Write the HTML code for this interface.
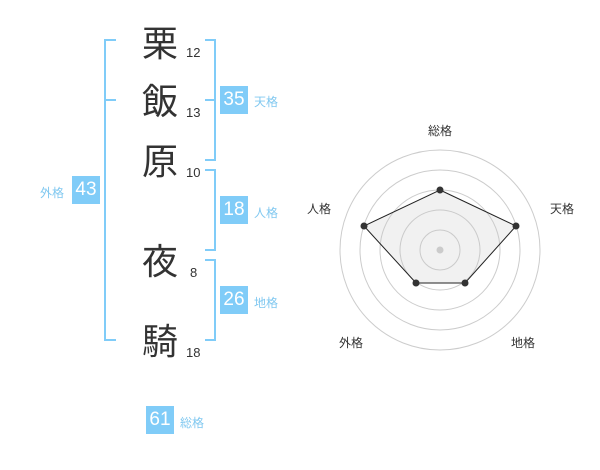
<!DOCTYPE html><html><head><meta charset="utf-8"><style>
body{margin:0;width:600px;height:470px;background:#fff;overflow:hidden;position:relative;font-family:"Liberation Sans","Noto Sans CJK JP",sans-serif}
.k{position:absolute;font-size:36px;color:#333;line-height:1;width:40px;text-align:center}
.n{position:absolute;font-size:13px;color:#333;line-height:1}
.b{position:absolute;background:#80ccf8;color:#fff;font-size:19px;width:28px;height:28px;line-height:28px;text-align:center}
.l{position:absolute;color:#80c8f0;font-size:12px;line-height:1}
.ln{position:absolute;background:#80ccf8}
</style></head><body>
<div class="k" style="left:140px;top:26px">栗</div><div class="n" style="left:186px;top:46px">12</div>
<div class="k" style="left:140px;top:84px">飯</div><div class="n" style="left:186px;top:106px">13</div>
<div class="k" style="left:140px;top:144px">原</div><div class="n" style="left:186px;top:166px">10</div>
<div class="k" style="left:140px;top:244px">夜</div><div class="n" style="left:190px;top:266px">8</div>
<div class="k" style="left:140px;top:324px">騎</div><div class="n" style="left:186px;top:346px">18</div>
<div class="ln" style="left:104px;top:39px;width:2px;height:302px"></div>
<div class="ln" style="left:104px;top:39px;width:12px;height:2px"></div>
<div class="ln" style="left:104px;top:99px;width:12px;height:2px"></div>
<div class="ln" style="left:104px;top:339px;width:12px;height:2px"></div>
<div class="ln" style="left:214px;top:39px;width:2px;height:122px"></div>
<div class="ln" style="left:205px;top:39px;width:10px;height:2px"></div>
<div class="ln" style="left:205px;top:99px;width:10px;height:2px"></div>
<div class="ln" style="left:205px;top:159px;width:10px;height:2px"></div>
<div class="ln" style="left:214px;top:169px;width:2px;height:82px"></div>
<div class="ln" style="left:205px;top:169px;width:10px;height:2px"></div>
<div class="ln" style="left:205px;top:249px;width:10px;height:2px"></div>
<div class="ln" style="left:214px;top:259px;width:2px;height:82px"></div>
<div class="ln" style="left:205px;top:259px;width:10px;height:2px"></div>
<div class="ln" style="left:205px;top:339px;width:10px;height:2px"></div>
<div class="b" style="left:220px;top:86px">35</div><div class="l" style="left:254px;top:96px">天格</div>
<div class="b" style="left:220px;top:196px">18</div><div class="l" style="left:254px;top:207px">人格</div>
<div class="b" style="left:220px;top:286px">26</div><div class="l" style="left:254px;top:297px">地格</div>
<div class="b" style="left:72px;top:176px">43</div><div class="l" style="left:40px;top:187px">外格</div>
<div class="b" style="left:146px;top:406px">61</div><div class="l" style="left:180px;top:417px">総格</div>
<svg style="position:absolute;left:0;top:0" width="600" height="470">
<g fill="none" stroke="#ccc" stroke-width="1">
<circle cx="440" cy="250" r="20"/><circle cx="440" cy="250" r="40"/><circle cx="440" cy="250" r="60"/><circle cx="440" cy="250" r="80"/><circle cx="440" cy="250" r="100"/></g>
<circle cx="440" cy="250" r="3.5" fill="#ccc"/>
<polygon points="440,190 516,226 465,283 416,283 364,226" fill="rgba(200,200,200,0.25)" stroke="#222" stroke-width="1"/>
<g fill="#333"><circle cx="440" cy="190" r="3.5"/><circle cx="516" cy="226" r="3.5"/><circle cx="465" cy="283" r="3.5"/><circle cx="416" cy="283" r="3.5"/><circle cx="364" cy="226" r="3.5"/></g>
<g font-size="12" fill="#333" font-family="Liberation Sans,Noto Sans CJK JP,sans-serif">
<text x="428" y="135">総格</text><text x="550" y="213">天格</text><text x="307" y="213">人格</text>
<text x="339" y="347">外格</text><text x="511" y="347">地格</text></g>
</svg>
</body></html>
